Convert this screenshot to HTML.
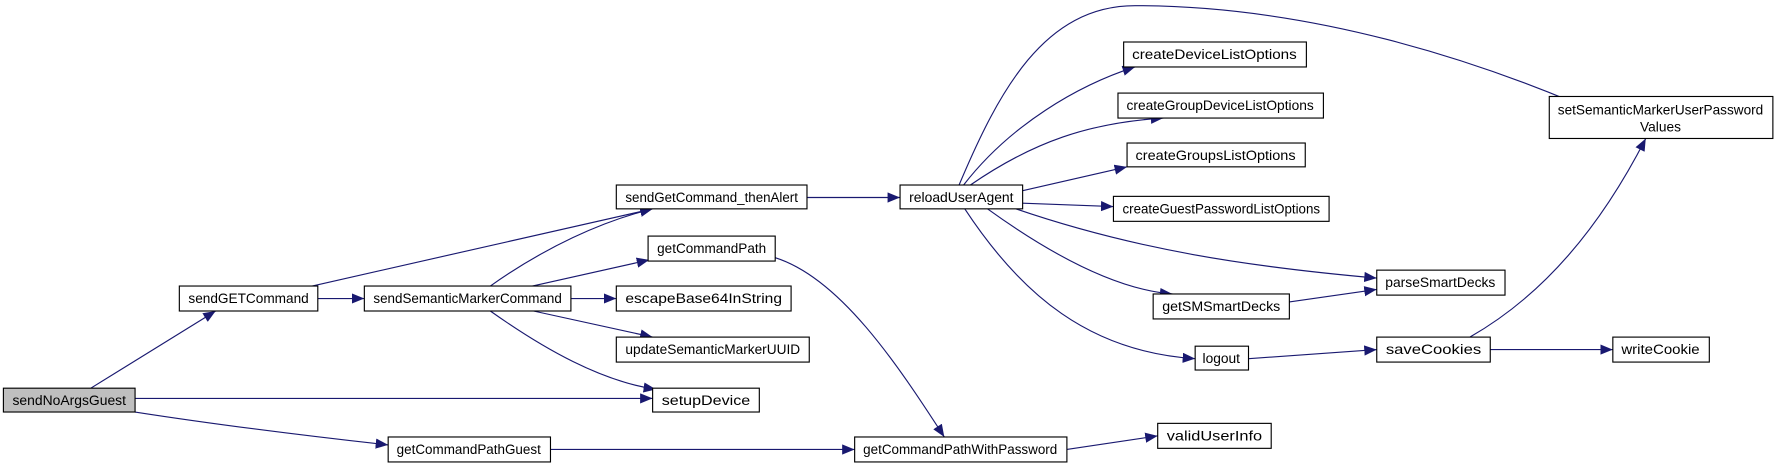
<!DOCTYPE html>
<html><head><meta charset="utf-8"><style>html,body{margin:0;padding:0;background:#fff;}svg{display:block}</style></head>
<body>
<svg width="1779" height="469" viewBox="0 0 1567.4 413.2" xmlns="http://www.w3.org/2000/svg">
<defs>
<marker id="a" markerUnits="userSpaceOnUse" markerWidth="12" markerHeight="10" refX="11" refY="4.5" orient="auto">
<path d="M0,0 L11,4.5 L0,9 Z" fill="#191970"/>
</marker>
</defs>
<g fill="none" stroke="#191970" stroke-width="1" marker-end="url(#a)">
<path d="M80,342 L190,274"/>
<path d="M119,351 L575,351"/>
<path d="M119,363 C190,374 270,384 342,392"/>
<path d="M280,263 L321,263"/>
<path d="M275,252 L575,184"/>
<path d="M432,252 C480,218 530,195 575,184"/>
<path d="M469,252 L572,229"/>
<path d="M503,263 L543,263"/>
<path d="M470,274 L575,297"/>
<path d="M432,274 C480,308 530,336 578,343"/>
<path d="M711,174 L793,174"/>
<path d="M683,227 C740,245 790,320 832,385"/>
<path d="M485,396 L753,396"/>
<path d="M940,396 L1020,384"/>
<path d="M845,163 C880,80 920,5 1000,5 C1150,5 1300,50 1427,108"/>
<path d="M849,163 C890,110 950,75 1000,59"/>
<path d="M855,163 C910,125 960,108 1025,104"/>
<path d="M901,168 L993,147"/>
<path d="M901,179 L981,182"/>
<path d="M895,184 C1000,220 1100,235 1213,245"/>
<path d="M870,184 C920,220 980,255 1033,259"/>
<path d="M850,184 C900,260 960,310 1053,316"/>
<path d="M1136,266 L1213,255"/>
<path d="M1100,316 L1213,308"/>
<path d="M1313,308 L1421,308"/>
<path d="M1295,297 C1360,260 1410,200 1450,122"/>
</g>
<g stroke="#000" stroke-width="1" fill="#fff">
<rect x="3" y="342" width="116" height="21" fill="#bfbfbf"/>
<rect x="158" y="252" width="122" height="22"/>
<rect x="321" y="252" width="182" height="22"/>
<rect x="543" y="163" width="168" height="21"/>
<rect x="571" y="208" width="112" height="22"/>
<rect x="543" y="252" width="154" height="22"/>
<rect x="543" y="297" width="170" height="22"/>
<rect x="575" y="342" width="94" height="21"/>
<rect x="342" y="385" width="143" height="22"/>
<rect x="753" y="385" width="187" height="22"/>
<rect x="1020" y="373" width="100" height="22"/>
<rect x="793" y="163" width="108" height="21"/>
<rect x="990" y="37" width="161" height="22"/>
<rect x="985" y="82" width="181" height="22"/>
<rect x="993" y="126" width="157" height="21"/>
<rect x="981" y="173" width="190" height="22"/>
<rect x="1213" y="238" width="113" height="22"/>
<rect x="1016" y="259" width="120" height="22"/>
<rect x="1053" y="305" width="47" height="21"/>
<rect x="1213" y="297" width="100" height="22"/>
<rect x="1421" y="297" width="85" height="22"/>
<rect x="1365" y="85" width="197" height="37"/>
</g>
<g font-family="Liberation Sans, sans-serif" font-size="12" fill="#000" text-anchor="middle">
<text x="61" y="357" textLength="100" lengthAdjust="spacingAndGlyphs">sendNoArgsGuest</text>
<text x="219" y="267" textLength="106" lengthAdjust="spacingAndGlyphs">sendGETCommand</text>
<text x="412" y="267" textLength="166" lengthAdjust="spacingAndGlyphs">sendSemanticMarkerCommand</text>
<text x="627" y="178" textLength="152" lengthAdjust="spacingAndGlyphs">sendGetCommand_thenAlert</text>
<text x="627" y="223" textLength="96" lengthAdjust="spacingAndGlyphs">getCommandPath</text>
<text x="620" y="267" textLength="138" lengthAdjust="spacingAndGlyphs">escapeBase64InString</text>
<text x="628" y="312" textLength="154" lengthAdjust="spacingAndGlyphs">updateSemanticMarkerUUID</text>
<text x="622" y="357" textLength="78" lengthAdjust="spacingAndGlyphs">setupDevice</text>
<text x="413" y="400" textLength="127" lengthAdjust="spacingAndGlyphs">getCommandPathGuest</text>
<text x="846" y="400" textLength="171" lengthAdjust="spacingAndGlyphs">getCommandPathWithPassword</text>
<text x="1070" y="388" textLength="84" lengthAdjust="spacingAndGlyphs">validUserInfo</text>
<text x="847" y="178" textLength="92" lengthAdjust="spacingAndGlyphs">reloadUserAgent</text>
<text x="1070" y="52" textLength="145" lengthAdjust="spacingAndGlyphs">createDeviceListOptions</text>
<text x="1075" y="97" textLength="165" lengthAdjust="spacingAndGlyphs">createGroupDeviceListOptions</text>
<text x="1071" y="141" textLength="141" lengthAdjust="spacingAndGlyphs">createGroupsListOptions</text>
<text x="1076" y="188" textLength="174" lengthAdjust="spacingAndGlyphs">createGuestPasswordListOptions</text>
<text x="1269" y="253" textLength="97" lengthAdjust="spacingAndGlyphs">parseSmartDecks</text>
<text x="1076" y="274" textLength="104" lengthAdjust="spacingAndGlyphs">getSMSmartDecks</text>
<text x="1076" y="320" textLength="33" lengthAdjust="spacingAndGlyphs">logout</text>
<text x="1263" y="312" textLength="84" lengthAdjust="spacingAndGlyphs">saveCookies</text>
<text x="1463" y="312" textLength="69" lengthAdjust="spacingAndGlyphs">writeCookie</text>
<text x="1463" y="101" textLength="181" lengthAdjust="spacingAndGlyphs">setSemanticMarkerUserPassword</text>
<text x="1463" y="116" textLength="36" lengthAdjust="spacingAndGlyphs">Values</text>
</g>
</svg>
</body></html>
